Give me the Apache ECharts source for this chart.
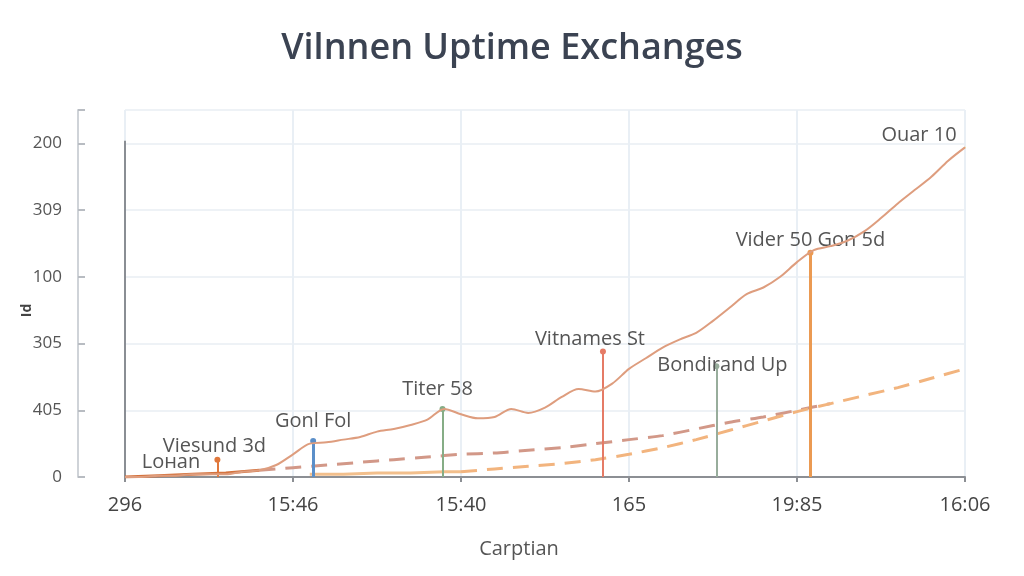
<!DOCTYPE html>
<html><head><meta charset="utf-8">
<script src="https://cdn.jsdelivr.net/npm/echarts@6/dist/echarts.min.js"></script>
<style>html,body{margin:0;padding:0;background:#fff}#c{width:1024px;height:576px}</style>
</head><body><div id="c"></div>
<script>
// ---- data ----
const titleText = 'Vilnnen Uptime Exchanges';
const xTickLabels = ['296', '15:46', '15:40', '165', '19:85', '16:06'];
const yTickLabels = ['0', '405', '305', '100', '309', '200'];
const xAxisName = 'Carptian';
const yAxisName = 'Id';

// main solid curve, one value per step (51 steps)
const mainValues = [0,0,1,1,2,2,2,4,5,9,17,25,26,28,30,34,36,39,43,51,47,44,45,51,48,52,60,66,64,70,81,89,97,103,108,117,127,137,142,150,161,170,173,177,184,194,205,215,225,237,247];
// dashed rosy line: [step, value]
const rosySteps  = [8,10,12,14,16,18,20,22,24,26,28,30,32,34,36,38,40,42];
const rosyValues = [5,7,9,11,13,15,17,18,20,22,25,28,31,36,41,45,50,55];
// light orange solid start
const orangeSolidSteps  = [11,13,15,17,19,20];
const orangeSolidValues = [2,2,3,3,4,4];
// light orange dashed continuation
const orangeDashSteps  = [20,22,24,26,28,30,32,34,36,38,40,42,44,46,48,50];
const orangeDashValues = [4,6,8,10,13,17,22,28,35,42,49,55,61,67,74,81];
// dark orange base segment
const baseSteps  = [0,2,4,6,8];
const baseValues = [0,1,2,3,5];
// vertical event markers
const markerNames  = ['Viesund 3d', 'Gonl Fol', 'Titer 58', 'Vitnames St', 'Bondirand Up', 'Vider 50 Gon 5d'];
const markerSteps  = [5.5, 11.2, 18.9, 28.45, 35.2, 40.8];
const markerTops   = [13, 27, 51, 94, 83, 168];
const markerColors = ['#e0783c', '#5b8fc9', '#86ad86', '#e57b66', '#98ad9c', '#eb9a52'];
const markerWidths = [2, 3, 2, 2, 2, 3];
const markerLabelGap = [3, 10, 10, 2, -9, 2];
const markerLabelShift = [-3, 0, -5, -13, 6, 0];
const startLabel = 'Loнan';
const startLabelStep = 2.5;
const startLabelValue = 11;
const endLabel = 'Ouar 10';

const STEPS_PER_TICK = 10;

const pairs = (xs, ys) => xs.map((x, i) => [x, ys[i]]);
const mainData = mainValues.map((v, i) => [i, v]);
const labelFont = { color: '#555', fontSize: 20, fontFamily: 'Open Sans' };

const markLineData = markerNames.map((n, i) => [
  { coord: [markerSteps[i], 0], lineStyle: { color: markerColors[i], width: markerWidths[i], type: 'solid' },
    label: Object.assign({ show: true, formatter: n, position: 'end', distance: markerLabelGap[i], offset: [markerLabelShift[i], 0] }, labelFont) },
  { coord: [markerSteps[i], markerTops[i]] }
]);

const chart = echarts.init(document.getElementById('c'), null, { renderer: 'canvas' });
chart.setOption({
  animation: false,
  backgroundColor: '#ffffff',
  title: {
    text: titleText, left: 'center', top: 26,
    textStyle: { fontFamily: 'Open Sans', fontSize: 36, fontWeight: 600, color: '#3b4352' }
  },
  grid: { left: 125, right: 59, top: 110, bottom: 99 },
  xAxis: {
    type: 'value', min: 0, max: 50, interval: STEPS_PER_TICK,
    name: xAxisName, nameLocation: 'middle', nameGap: 62,
    nameTextStyle: { fontFamily: 'Open Sans', fontSize: 20, color: '#555', padding: [0, 52, 0, 0] },
    axisLine: { show: true, onZero: false, lineStyle: { color: '#8c8f94', width: 2 } },
    axisTick: { show: true, length: 5, lineStyle: { color: '#8c8f94', width: 2 } },
    axisLabel: { margin: 18, fontFamily: 'Open Sans', fontSize: 20, color: '#444',
      formatter: v => xTickLabels[Math.round(v / STEPS_PER_TICK)] ?? '' },
    splitLine: { show: true, lineStyle: { color: '#e9eff5', width: 2 } }
  },
  yAxis: {
    type: 'value', min: 0, max: 275, interval: 50, offset: 47,
    name: yAxisName, nameLocation: 'middle', nameGap: 44, nameRotate: 90, nameMoveOverlap: false,
    nameTextStyle: { fontFamily: 'Open Sans', fontSize: 14, color: '#444', fontWeight: 'bold', padding: [0, 34, 0, 0] },
    axisLine: { show: true, onZero: false, lineStyle: { color: '#cfd3d8', width: 2 } },
    axisTick: { show: true, inside: true, length: 7, lineStyle: { color: '#b8bcc2', width: 2 } },
    axisLabel: { margin: 16, fontFamily: 'Open Sans', fontSize: 17, color: '#555',
      formatter: v => (v % 50 === 0 ? (yTickLabels[v / 50] ?? '') : '') },
    splitLine: { show: true, lineStyle: { color: '#eef2f6', width: 2 } }
  },
  series: [
    { type: 'line', data: [[0, 0], [0, 252]], symbol: 'none', silent: true,
      lineStyle: { color: '#8a8e94', width: 2 }, z: 1 },
    { type: 'line', data: pairs(rosySteps, rosyValues), symbol: 'none', smooth: 0.2,
      lineStyle: { color: '#d29888', width: 3, type: [16, 10] }, z: 2 },
    { type: 'line', data: pairs(orangeSolidSteps, orangeSolidValues), symbol: 'none',
      lineStyle: { color: '#f2bf8c', width: 3 }, z: 2 },
    { type: 'line', data: pairs(orangeDashSteps, orangeDashValues), symbol: 'none', smooth: 0.2,
      lineStyle: { color: '#f2b47e', width: 3, type: [16, 10] }, z: 3 },
    { type: 'line', data: pairs(baseSteps, baseValues), symbol: 'none',
      lineStyle: { color: '#d4733e', width: 3 }, z: 4 },
    { type: 'line', data: mainData, symbol: 'none', smooth: 0.3,
      lineStyle: { color: '#de9d7e', width: 2 }, z: 5,
      markLine: { symbol: ['none', 'circle'], symbolSize: 6, silent: true, data: markLineData },
      markPoint: { symbol: 'circle', symbolSize: 1, silent: true,
        data: [
          { coord: [startLabelStep, startLabelValue], label: Object.assign({ show: true, formatter: startLabel, position: 'inside', offset: [4, 0] }, labelFont) },
          { coord: [mainValues.length - 1, mainValues[mainValues.length - 1]], label: Object.assign({ show: true, formatter: endLabel, position: 'top', distance: 2, offset: [-46, 0] }, labelFont) }
        ] } }
  ]
});
</script></body></html>
